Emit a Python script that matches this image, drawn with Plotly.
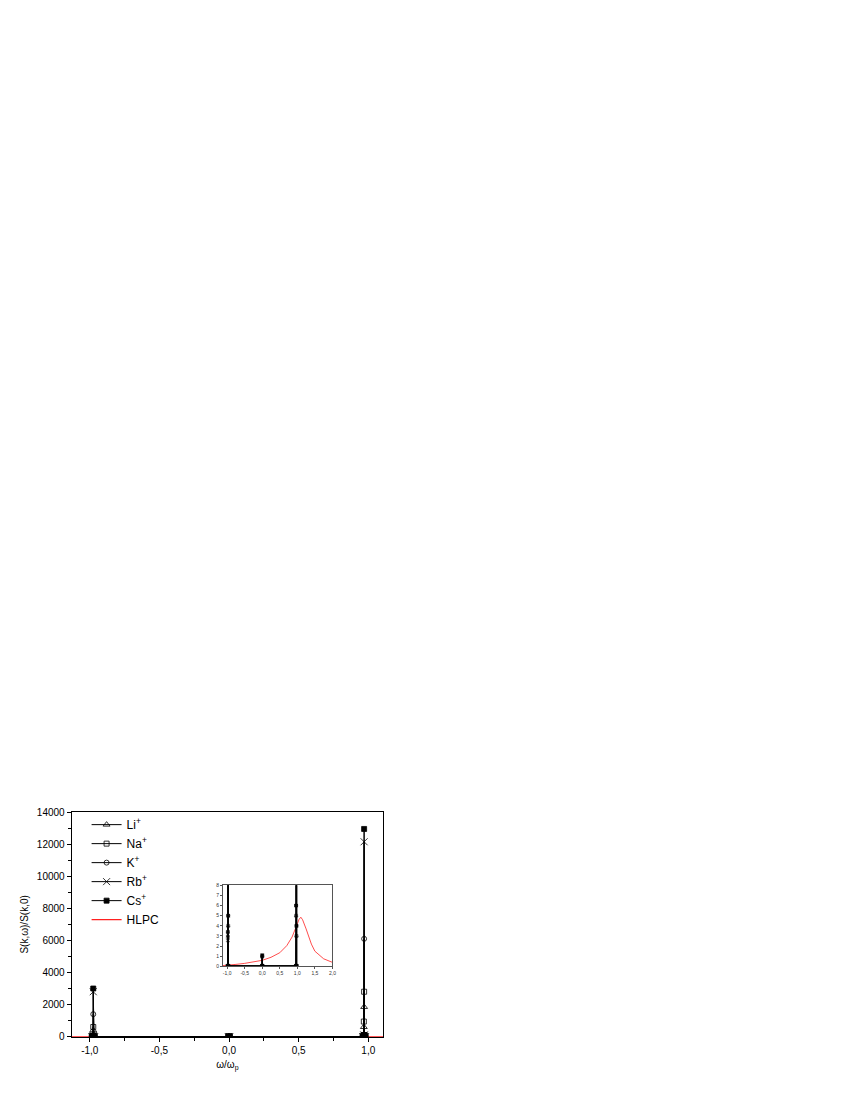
import plotly.graph_objects as go

W, H = 850, 1100

# ---------------- data ----------------
omega = [-0.985, -0.98, -0.977, -0.975, -0.973, -0.97, -0.965,
         -0.005, 0.0, 0.005,
         0.96, 0.965, 0.968, 0.97, 0.972, 0.975, 0.98]

li = [0.05, 2.5, 30, 400, 45, 4, 0.05, 0.05, 0.9, 0.05, 0.05, 5, 600, 1850, 70, 3, 0.05]
na = [0.05, 2.8, 35, 600, 50, 4, 0.05, 0.05, 1.0, 0.05, 0.05, 5, 940, 2800, 75, 3, 0.05]
k_ = [0.05, 3.0, 38, 1400, 55, 5, 0.05, 0.05, 1.0, 0.05, 0.05, 6, 90, 6100, 85, 4, 0.05]
rb = [0.05, 3.2, 40, 2800, 58, 5, 0.05, 0.05, 1.1, 0.05, 0.05, 6, 95, 12150, 88, 4, 0.05]
cs = [0.05, 3.4, 42, 3000, 60, 5, 0.05, 0.05, 1.1, 0.05, 0.05, 6, 100, 12950, 90, 4, 0.05]

hlpc_x = [-1.13, -1.0, -0.75, -0.5, -0.25, 0.0, 0.25, 0.5, 0.7, 0.85, 1.0, 1.05,
          1.1, 1.15, 1.25, 1.4, 1.5, 1.75, 2.0]
hlpc_y = [0.08, 0.1, 0.2, 0.3, 0.42, 0.6, 0.9, 1.35, 2.05, 2.9, 4.2, 4.65,
          4.85, 4.6, 3.7, 2.2, 1.5, 0.75, 0.4]

series = [
    ("Li<sup>+</sup>", li, "triangle-up-open", 6),
    ("Na<sup>+</sup>", na, "square-open", 5),
    ("K<sup>+</sup>", k_, "circle-open", 5),
    ("Rb<sup>+</sup>", rb, "x-thin-open", 7),
    ("Cs<sup>+</sup>", cs, "square", 5),
]

main_xticks = [-1.0, -0.5, 0.0, 0.5, 1.0]
main_xtext = ["-1,0", "-0,5", "0,0", "0,5", "1,0"]
main_yticks = [0, 2000, 4000, 6000, 8000, 10000, 12000, 14000]
main_ytext = ["0", "2000", "4000", "6000", "8000", "10000", "12000", "14000"]
inset_xticks = [-1.0, -0.5, 0.0, 0.5, 1.0, 1.5, 2.0]
inset_xtext = ["-1,0", "-0,5", "0,0", "0,5", "1,0", "1,5", "2,0"]
inset_yticks = [0, 1, 2, 3, 4, 5, 6, 7, 8]

# ---------------- figure ----------------
fig = go.Figure()
FONT = "Liberation Sans, Arial, sans-serif"

# HLPC (main) drawn first so the black curves sit on top of it
fig.add_trace(go.Scatter(x=hlpc_x, y=hlpc_y, mode="lines", name="HLPC",
                         line=dict(color="#ff2020", width=1.2),
                         legendrank=6, xaxis="x", yaxis="y"))
for i, (name, ys, sym, sz) in enumerate(series):
    fig.add_trace(go.Scatter(
        x=omega, y=ys, mode="lines+markers", name=name, legendrank=i + 1,
        line=dict(color="black", width=1),
        marker=dict(symbol=sym, size=sz, color="black",
                    line=dict(color="black", width=0.8)),
        xaxis="x", yaxis="y"))

# inset
fig.add_trace(go.Scatter(x=hlpc_x, y=hlpc_y, mode="lines", showlegend=False,
                         line=dict(color="#ff2020", width=0.8),
                         xaxis="x2", yaxis="y2"))
for name, ys, sym, sz in series:
    fig.add_trace(go.Scatter(
        x=omega, y=ys, mode="lines+markers", showlegend=False,
        line=dict(color="black", width=0.8),
        marker=dict(symbol=sym, size=3, color="black",
                    line=dict(color="black", width=0.5)),
        xaxis="x2", yaxis="y2"))

x0, x1 = 72, 385
y0, y1 = 815, 1042
ix0, ix1 = 224, 334
iy0, iy1 = 889, 971

axis_common = dict(showgrid=False, zeroline=False, showline=True,
                   linecolor="black", linewidth=1, mirror=True,
                   ticks="outside", tickcolor="black", tickwidth=1)

fig.update_layout(
    width=W, height=H,
    margin=dict(l=0, r=0, t=0, b=0),
    paper_bgcolor="white", plot_bgcolor="white",
    font=dict(family=FONT, color="black", size=10),
    showlegend=True,
    legend=dict(x=87 / W, y=1 - 813 / H, xanchor="left", yanchor="top",
                bgcolor="rgba(0,0,0,0)", font=dict(size=12, family=FONT),
                tracegroupgap=0, itemsizing="trace"),
    xaxis=dict(domain=[x0 / W, x1 / W], range=[-1.13, 1.107], anchor="y",
               tickvals=main_xticks, ticktext=main_xtext, ticklen=4,
               tickfont=dict(size=10),
               minor=dict(tickvals=[-0.75, -0.25, 0.25, 0.75], ticklen=3,
                          ticks="outside", tickcolor="black"),
               title=dict(text="ω/ω<sub>p</sub>", font=dict(size=10), standoff=6),
               **axis_common),
    yaxis=dict(domain=[1 - y1 / H, 1 - y0 / H], range=[0, 14000], anchor="x",
               tickvals=main_yticks, ticktext=main_ytext, ticklen=4,
               tickfont=dict(size=10),
               minor=dict(tickvals=[1000, 3000, 5000, 7000, 9000, 11000, 13000],
                          ticklen=3, ticks="outside", tickcolor="black"),
               title=dict(text="S(k,ω)/S(k,0)", font=dict(size=10), standoff=6),
               **axis_common),
    xaxis2=dict(domain=[ix0 / W, ix1 / W], range=[-1.12, 2.0], anchor="y2",
                tickvals=inset_xticks, ticktext=inset_xtext, ticklen=2,
                tickfont=dict(size=5, color="#333"), showline=True,
                linecolor="#555", linewidth=0.8, mirror=True, ticks="outside",
                tickcolor="#555", showgrid=False, zeroline=False),
    yaxis2=dict(domain=[1 - iy1 / H, 1 - iy0 / H], range=[0, 8], anchor="x2",
                tickvals=inset_yticks, ticklen=2,
                tickfont=dict(size=5, color="#333"),
                showline=True, linecolor="#555", linewidth=0.8, mirror=True,
                ticks="outside", tickcolor="#555", showgrid=False,
                zeroline=False),
)

fig.write_html("out.html", config={"displayModeBar": False},
               post_script="document.body.style.margin='0';")
